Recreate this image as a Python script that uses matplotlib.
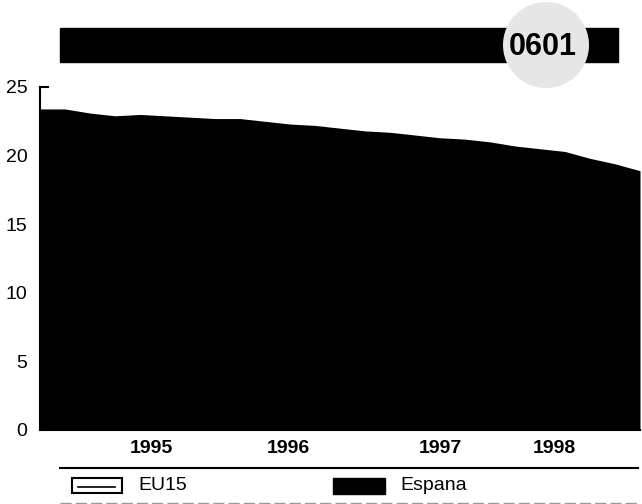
import matplotlib

matplotlib.use("Agg")
import matplotlib.pyplot as plt
from matplotlib.patches import Rectangle, Circle

plt.rcParams["font.family"] = ["Liberation Sans", "DejaVu Sans"]

# Data (one point per step along the x axis)
espana = [23.4, 23.4, 23.1, 22.9, 23.0, 22.9, 22.8, 22.7, 22.7, 22.5,
          22.3, 22.2, 22.0, 21.8, 21.7, 21.5, 21.3, 21.2, 21.0, 20.7,
          20.5, 20.3, 19.8, 19.4, 18.9]
x = list(range(len(espana)))
year_pos = [4.44, 9.92, 16.0, 20.56]
year_labels = ["1995", "1996", "1997", "1998"]
y_ticks = [0, 5, 10, 15, 20, 25]
legend_labels = ["EU15", "Espana"]
badge_text = "0601"

W, H = 642, 504
fig = plt.figure(figsize=(W / 100, H / 100), dpi=100)

# main axes
ax = fig.add_axes([40 / W, 1 - 430 / H, 600 / W, (430 - 87) / H])
ax.fill_between(x, 0, espana, color="black", linewidth=0)
ax.set_xlim(0, len(espana) - 1)
ax.set_ylim(0, 25)
ax.set_yticks(y_ticks)
ax.set_yticklabels([str(t) for t in y_ticks], fontsize=14)
ax.set_xticks(year_pos)
ax.set_xticklabels(year_labels, fontsize=14, fontweight="bold")
ax.tick_params(axis="y", length=0, pad=9)
ax.tick_params(axis="x", length=0, pad=7)
for s in ["top", "right"]:
    ax.spines[s].set_visible(False)
ax.spines["left"].set_linewidth(1.5)
ax.spines["bottom"].set_linewidth(1.5)
ax.plot([0, 0.3], [25, 25], color="black", lw=1.5, clip_on=False)

# overlay in pixel coords for header and legend
ov = fig.add_axes([0, 0, 1, 1])
ov.set_xlim(0, W)
ov.set_ylim(H, 0)
ov.axis("off")
ov.patch.set_alpha(0)

# header bar and badge
ov.add_patch(Rectangle((60, 28), 558, 34, color="black"))
ov.add_patch(Circle((546, 45), 43, facecolor="#e6e6e6", edgecolor="none"))
ov.text(543, 47, badge_text, ha="center", va="center", fontsize=22,
        fontweight="bold", color="black",
        family=["Liberation Sans Narrow", "Liberation Sans", "DejaVu Sans"])

# legend
ov.plot([60, 638], [468, 468], color="black", lw=1.5)
ov.plot([60, 638], [503, 503], color="#999999", lw=1, ls=(0, (8, 3)))
ov.add_patch(Rectangle((72, 478), 50, 15, facecolor="white", edgecolor="black", lw=1.5))
ov.plot([78, 115], [486.5, 486.5], color="black", lw=1.2)
ov.text(138, 485.5, legend_labels[0], ha="left", va="center", fontsize=14)
ov.add_patch(Rectangle((333, 478), 52, 16, color="black"))
ov.text(400, 485.5, legend_labels[1], ha="left", va="center", fontsize=14)

fig.savefig("out.png", dpi=100)
